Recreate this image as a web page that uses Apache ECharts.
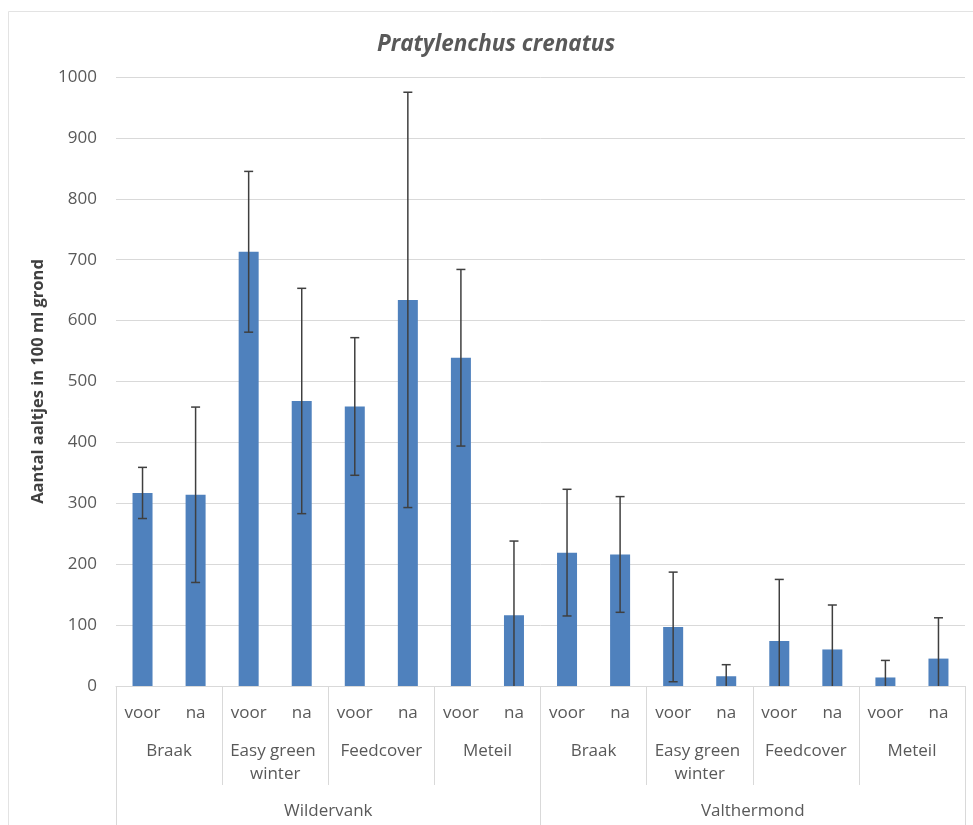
<!DOCTYPE html>
<html>
<head>
<meta charset="utf-8">
<script src="https://cdn.jsdelivr.net/npm/echarts@6/dist/echarts.min.js"></script>
<style>
html,body{margin:0;padding:0;background:#fff;}
#chart{width:973px;height:825px;}
</style>
</head>
<body>
<div id="chart"></div>
<script>
// ---- data ----
const periods = ['voor','na','voor','na','voor','na','voor','na','voor','na','voor','na','voor','na','voor','na'];
const groups = ['Braak','Easy green winter','Feedcover','Meteil','Braak','Easy green winter','Feedcover','Meteil'];
const locations = ['Wildervank','Valthermond'];
const means = [317, 314, 713, 468, 459, 634, 539, 116, 219, 216, 97, 16, 74, 60, 14, 45];
const errors = [42, 144, 132, 185, 113, 341, 145, 122, 104, 95, 90, 19, 101, 73, 28, 67];
const yTicks = {min: 0, max: 1000, interval: 100};
const titleText = 'Pratylenchus crenatus';
const yName = 'Aantal aaltjes in 100 ml grond';

const FONT = 'Open Sans';
const GRID_COLOR = '#d9d9d9';
const TEXT_COLOR = '#595959';

const errData = means.map((v, i) => [i, v, errors[i]]);

const chart = echarts.init(document.getElementById('chart'), null, {renderer: 'canvas'});
chart.setOption({
  backgroundColor: '#fff',
  animation: false,
  title: {
    text: titleText,
    left: 372,
    top: 28,
    textStyle: {fontFamily: FONT, fontSize: 22.5, fontStyle: 'italic', fontWeight: 'bold', color: TEXT_COLOR}
  },
  graphic: [{
    type: 'rect',
    shape: {x: 8.5, y: 11.5, width: 1000, height: 900},
    style: {fill: null, stroke: '#e3e3e3', lineWidth: 1},
    silent: true
  }],
  grid: {left: 116, right: 8, top: 77, bottom: 139, containLabel: false},
  xAxis: [{
    type: 'category',
    data: periods,
    position: 'bottom',
    axisLine: {show: true, onZero: false, lineStyle: {color: GRID_COLOR, width: 1}},
    axisTick: {show: false},
    axisLabel: {interval: 0, margin: 19, fontFamily: FONT, fontSize: 17, color: TEXT_COLOR}
  }, {
    type: 'category',
    data: groups,
    position: 'bottom',
    axisLine: {show: false, onZero: false},
    axisTick: {show: true, interval: 0, length: 99, lineStyle: {color: GRID_COLOR, width: 1}},
    axisLabel: {interval: 0, margin: 54, fontFamily: FONT, fontSize: 17, color: TEXT_COLOR,
      width: 100, overflow: 'break', lineHeight: 23}
  }, {
    type: 'category',
    data: locations,
    position: 'bottom',
    axisLine: {show: false, onZero: false},
    axisTick: {show: true, interval: 0, length: 140, lineStyle: {color: GRID_COLOR, width: 1}},
    axisLabel: {interval: 0, margin: 117, fontFamily: FONT, fontSize: 17, color: TEXT_COLOR}
  }],
  yAxis: {
    type: 'value',
    min: yTicks.min,
    max: yTicks.max,
    interval: yTicks.interval,
    name: yName,
    nameLocation: 'middle',
    nameGap: 56,
    nameTextStyle: {fontFamily: FONT, fontSize: 16.5, fontWeight: 'bold', color: '#404040'},
    axisLine: {show: false},
    axisTick: {show: false},
    axisLabel: {margin: 19, fontFamily: FONT, fontSize: 17, color: TEXT_COLOR,
      formatter: function (v) { return String(v); }},
    splitLine: {lineStyle: {color: GRID_COLOR, width: 1}}
  },
  series: [{
    type: 'bar',
    xAxisIndex: 0,
    data: means,
    barWidth: 20,
    itemStyle: {color: '#4f81bd'},
    silent: true
  }, {
    type: 'custom',
    xAxisIndex: 0,
    data: errData,
    encode: {x: 0, y: [1]},
    silent: true,
    z: 10,
    renderItem: function (params, api) {
      const i = api.value(0);
      const v = api.value(1);
      const e = api.value(2);
      const hiV = v + e;
      const loV = Math.max(0, v - e);
      const hi = api.coord([i, hiV]);
      const lo = api.coord([i, loV]);
      const hw = 4.5;
      const style = {stroke: '#3f3f3f', lineWidth: 1.5};
      const children = [
        {type: 'line', shape: {x1: hi[0], y1: hi[1], x2: lo[0], y2: lo[1]}, style: style},
        {type: 'line', shape: {x1: hi[0] - hw, y1: hi[1], x2: hi[0] + hw, y2: hi[1]}, style: style}
      ];
      if (v - e > 0) {
        children.push({type: 'line', shape: {x1: lo[0] - hw, y1: lo[1], x2: lo[0] + hw, y2: lo[1]}, style: style});
      }
      return {type: 'group', children: children};
    }
  }]
});
</script>
</body>
</html>
